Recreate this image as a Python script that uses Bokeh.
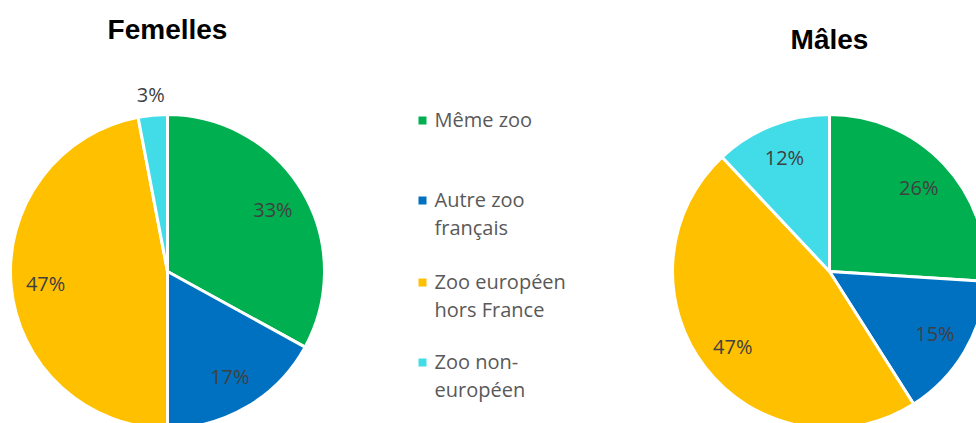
import math
from bokeh.plotting import figure
from bokeh.models import Range1d, ColumnDataSource
from bokeh.core.properties import value
from bokeh.embed import file_html
from bokeh.resources import INLINE

# ---- data ----
categories = ["Même zoo", "Autre zoo français", "Zoo européen hors France", "Zoo non-européen"]
legend_labels = ["Même zoo", "Autre zoo\nfrançais", "Zoo européen\nhors France", "Zoo non-\neuropéen"]
femelles = [33, 17, 47, 3]
males = [26, 15, 47, 12]
colors = ["#00B050", "#0070C0", "#FFC000", "#41DCE8"]
titles = ["Femelles", "Mâles"]

H = 423  # reference pixel height, used to flip y
p = figure(width=976, height=423, output_backend="svg", toolbar_location=None,
           x_range=Range1d(0, 976), y_range=Range1d(0, 423), min_border=0)
p.axis.visible = False
p.grid.visible = False
p.outline_line_color = None
p.background_fill_color = "white"


def draw_pie(vals, cx, cy, r, title, title_y):
    total = float(sum(vals))
    starts, ends, lx, ly, labels = [], [], [], [], []
    cum = 0.0
    for v in vals:
        a0 = math.pi / 2 - 2 * math.pi * cum / total
        cum += v
        a1 = math.pi / 2 - 2 * math.pi * cum / total
        starts.append(a0)
        ends.append(a1)
        mid = (a0 + a1) / 2
        f = 1.13 if v / total < 0.05 else 0.78
        lx.append(cx + f * r * math.cos(mid))
        ly.append(cy + f * r * math.sin(mid))
        labels.append(f"{round(100 * v / total)}%")
    src = ColumnDataSource(dict(x=[cx] * len(vals), y=[cy] * len(vals), s=starts, e=ends, c=colors))
    p.wedge(x="x", y="y", radius=r, start_angle="s", end_angle="e", direction="clock",
            fill_color="c", line_color="white", line_width=3, source=src)
    p.text(x=lx, y=ly, text=labels, text_align="center", text_baseline="middle",
           text_font=value("Open Sans"), text_font_size="20px", text_color="#404040")
    p.text(x=[cx], y=[title_y], text=[title], text_align="center", text_baseline="middle",
           text_font=value("Liberation Sans"), text_font_style="bold",
           text_font_size="28px", text_color="black")


draw_pie(femelles, 167, H - 271, 157, titles[0], H - 29)
draw_pie(males, 829, H - 271, 157, titles[1], H - 39)

# legend
leg_y = [120, 200, 282, 362]
p.scatter(x=[422] * 4, y=[H - v for v in leg_y], marker="square", size=8,
          fill_color=colors, line_color=None)
p.text(x=[434] * 4, y=[H - v + 15 for v in leg_y], text=legend_labels, text_align="left",
       text_baseline="top", text_font=value("Open Sans"), text_font_size="20px",
       text_color="#595959", text_line_height=1.05)

open("out.html", "w").write(file_html(p, INLINE))
